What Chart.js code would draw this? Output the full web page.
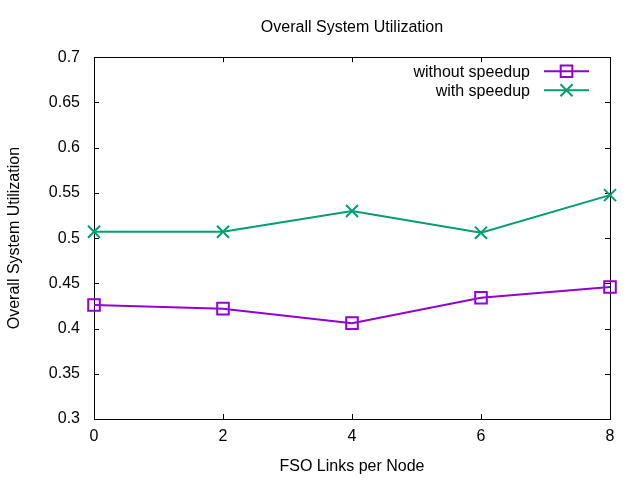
<!DOCTYPE html>
<html>
<head>
<meta charset="utf-8">
<script src="https://cdn.jsdelivr.net/npm/chart.js@4/dist/chart.umd.min.js"></script>
<style>
  html, body { margin: 0; padding: 0; background: #fff; }
  #wrap { width: 640px; height: 480px; }
</style>
</head>
<body>
<div id="wrap"><canvas id="chart" width="640" height="480"></canvas></div>
<script>
const links = [0, 2, 4, 6, 8];
const withoutSpeedup = [0.426, 0.422, 0.406, 0.434, 0.446];
const withSpeedup = [0.507, 0.507, 0.530, 0.506, 0.5475];
const yTicks = [0.3, 0.35, 0.4, 0.45, 0.5, 0.55, 0.6, 0.65, 0.7];

const FONT = "'Liberation Sans', Arial, sans-serif";
const purple = "#9400d3";
const green = "#009e73";

// gnuplot-like frame: full border with inward ticks on all sides
const framePlugin = {
  id: "frame",
  beforeDatasetsDraw(chart) {
    const { ctx, chartArea: a, scales } = chart;
    ctx.save();
    ctx.strokeStyle = "#000";
    ctx.lineWidth = 1;
    ctx.strokeRect(Math.round(a.left) + 0.5, Math.round(a.top) + 0.5,
      Math.round(a.right - a.left), Math.round(a.bottom - a.top));
    const len = 5;
    ctx.beginPath();
    yTicks.forEach((v) => {
      const y = Math.round(scales.y.getPixelForValue(v)) + 0.5;
      ctx.moveTo(a.left, y); ctx.lineTo(a.left + len, y);
      ctx.moveTo(a.right, y); ctx.lineTo(a.right - len, y);
    });
    links.forEach((v) => {
      const x = Math.round(scales.x.getPixelForValue(v)) + 0.5;
      ctx.moveTo(x, a.bottom); ctx.lineTo(x, a.bottom - len);
      ctx.moveTo(x, a.top); ctx.lineTo(x, a.top + len);
    });
    ctx.stroke();
    ctx.restore();
  },
  afterDatasetsDraw(chart) {
    // key in the top right corner
    const { ctx, chartArea: a } = chart;
    const textRight = a.right - 80;
    const lineL = a.right - 66, lineR = a.right - 21;
    ctx.save();
    ctx.font = "16px " + FONT;
    ctx.textAlign = "right";
    ctx.textBaseline = "middle";
    chart.data.datasets.forEach((ds, i) => {
      const y = a.top + 14 + i * 19;
      ctx.fillStyle = "#000";
      ctx.fillText(ds.label, textRight, y + 1);
      ctx.strokeStyle = ds.borderColor;
      ctx.lineWidth = ds.borderWidth;
      ctx.beginPath();
      ctx.moveTo(lineL, y); ctx.lineTo(lineR, y);
      ctx.stroke();
      ctx.lineWidth = ds.pointBorderWidth;
      ctx.fillStyle = "rgba(0,0,0,0)";
      Chart.helpers.drawPoint(ctx, {
        pointStyle: ds.pointStyle, radius: ds.pointRadius, rotation: 0,
        borderWidth: ds.pointBorderWidth
      }, (lineL + lineR) / 2, y);
    });
    ctx.restore();
  }
};

new Chart(document.getElementById("chart"), {
  type: "line",
  data: {
    datasets: [
      {
        label: "without speedup",
        data: links.map((x, i) => ({ x, y: withoutSpeedup[i] })),
        borderColor: purple,
        backgroundColor: "rgba(0,0,0,0)",
        borderWidth: 2,
        pointStyle: "rect",
        pointRadius: 8.2,
        pointBorderWidth: 2,
        pointBorderColor: purple,
        pointBackgroundColor: "rgba(0,0,0,0)",
        tension: 0,
        clip: false
      },
      {
        label: "with speedup",
        data: links.map((x, i) => ({ x, y: withSpeedup[i] })),
        borderColor: green,
        backgroundColor: "rgba(0,0,0,0)",
        borderWidth: 2,
        pointStyle: "crossRot",
        pointRadius: 8.5,
        pointBorderWidth: 2,
        pointBorderColor: green,
        pointBackgroundColor: "rgba(0,0,0,0)",
        tension: 0,
        clip: false
      }
    ]
  },
  plugins: [framePlugin],
  options: {
    responsive: false,
    animation: false,
    devicePixelRatio: 1,
    layout: { padding: { left: 0, right: 30, top: 0, bottom: 0 } },
    plugins: {
      legend: { display: false },
      tooltip: { enabled: false },
      title: {
        display: true,
        fullSize: false,
        text: "Overall System Utilization",
        color: "#000",
        font: { family: FONT, size: 16, weight: "normal" },
        padding: { top: 18, bottom: 20 }
      }
    },
    scales: {
      x: {
        type: "linear",
        min: 0,
        max: 8,
        afterBuildTicks: (s) => { s.ticks = links.map((v) => ({ value: v })); },
        afterFit: (s) => { s.height = 61; },
        grid: { display: false, drawTicks: false },
        border: { display: false },
        ticks: { color: "#000", padding: 8, maxRotation: 0, font: { family: FONT, size: 16 } },
        title: {
          display: true,
          text: "FSO Links per Node",
          color: "#000",
          font: { family: FONT, size: 16 },
          padding: { top: 0, bottom: 4 }
        }
      },
      y: {
        type: "linear",
        min: 0.3,
        max: 0.7,
        afterBuildTicks: (s) => { s.ticks = yTicks.map((v) => ({ value: v })); },
        afterFit: (s) => { s.width = 94; },
        grid: { display: false, drawTicks: false },
        border: { display: false },
        ticks: {
          color: "#000",
          padding: 14,
          font: { family: FONT, size: 16 },
          callback: (v) => String(Math.round(v * 100) / 100)
        },
        title: {
          display: true,
          text: "Overall System Utilization",
          color: "#000",
          font: { family: FONT, size: 16 },
          padding: { top: 5, bottom: 0 }
        }
      }
    }
  }
});
</script>
</body>
</html>
